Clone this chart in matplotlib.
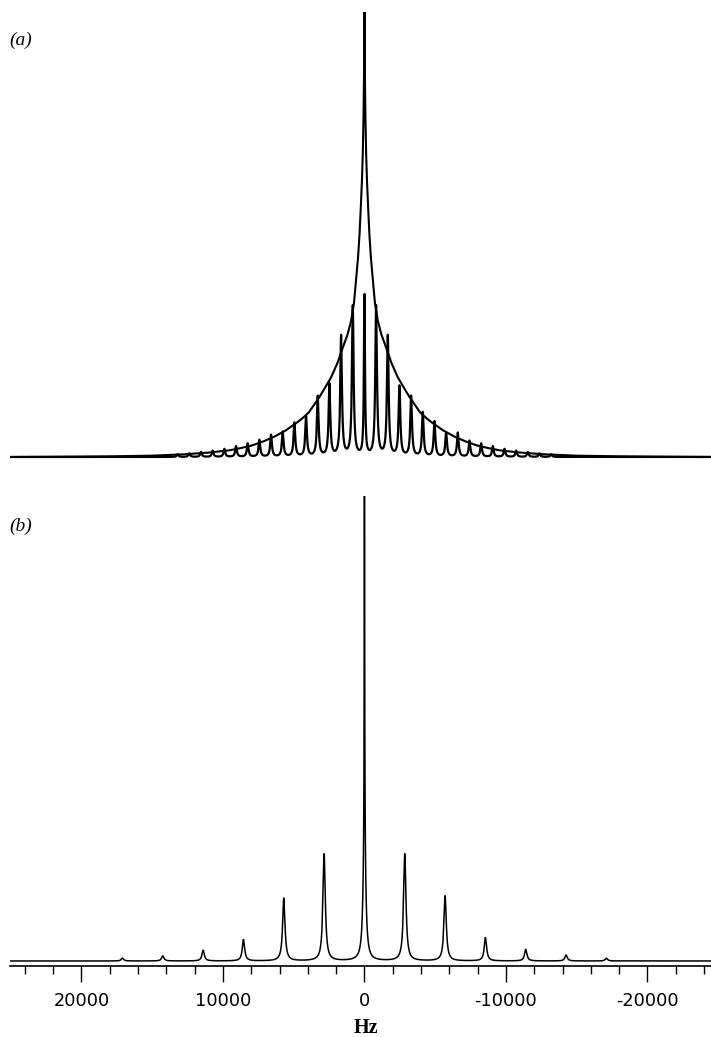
import numpy as np
import matplotlib
matplotlib.use('Agg')
import matplotlib.pyplot as plt
from matplotlib.ticker import FixedLocator, MultipleLocator

# ---- data ----
# (a) slow spinning: spinning rate (Hz), sideband heights (relative to top of panel)
spin_a = 825
side_a_pos = [0.337, 0.27, 0.162, 0.135, 0.090, 0.076, 0.056, 0.049,
              0.038, 0.030, 0.024, 0.018, 0.014, 0.011, 0.008, 0.006]
side_a_neg = [0.337, 0.27, 0.157, 0.135, 0.099, 0.079, 0.054, 0.054,
              0.036, 0.030, 0.024, 0.018, 0.014, 0.011, 0.008, 0.006]
centre_a = 0.36

# static line shape in (a): offset from centre (Hz) and height
env_hz = [0, 30, 70, 120, 180, 260, 350, 450, 560, 740, 950, 1200, 1540,
          1900, 2340, 2800, 3140, 3500, 3940, 4350, 4740, 5150, 5550, 6350,
          7150, 7950, 8750, 9550, 11000, 12750, 15000, 18000, 21000, 25100]
env_h = [1.0, 0.86, 0.76, 0.68, 0.62, 0.56, 0.50, 0.45, 0.41, 0.346, 0.305,
         0.275, 0.245, 0.212, 0.180, 0.155, 0.137, 0.120, 0.100, 0.088, 0.078,
         0.069, 0.060, 0.046, 0.035, 0.026, 0.020, 0.015, 0.010, 0.006, 0.003,
         0.0015, 0.0008, 0.0]

# (b) fast spinning
spin_b = 2850
side_b_pos = [0.23, 0.135, 0.046, 0.023, 0.011, 0.006]
side_b_neg = [0.23, 0.14, 0.05, 0.025, 0.013, 0.006]
centre_b = [0.75, 0.25]
centre_b_fwhm = [40, 220]

tick_hz = [20000, 10000, 0, -10000, -20000]
tick_labels = ['20000', '10000', '0', '-10000', '-20000']

XLIM = (25050, -24490)


def lorentz(x, x0, h, fwhm):
    return h / (1.0 + ((x - x0) / (fwhm / 2.0)) ** 2)


x = np.arange(-24500, 25060, 2.5)

# spectrum (a)
spec_a = lorentz(x, 0, centre_a, 90)
for n, (hp, hn) in enumerate(zip(side_a_pos, side_a_neg), start=1):
    spec_a += lorentz(x, n * spin_a, hp, 140)
    spec_a += lorentz(x, -n * spin_a, hn, 140)

env_x = [-v for v in env_hz[::-1]] + env_hz[1:]
env_y = env_h[::-1] + env_h[1:]

# spectrum (b)
spec_b = np.zeros_like(x)
for h, w in zip(centre_b, centre_b_fwhm):
    spec_b += lorentz(x, 0, h, w)
for n, (hp, hn) in enumerate(zip(side_b_pos, side_b_neg), start=1):
    spec_b += lorentz(x, n * spin_b, hp, 200)
    spec_b += lorentz(x, -n * spin_b, hn, 200)

W, H = 711, 1037
fig = plt.figure(figsize=(W / 100, H / 100), dpi=100)

# panel (a): top at y=12 px, baseline at y=457 px
ax_a = fig.add_axes([10 / W, 1 - 465 / H, 701 / W, 453 / H])
ax_a.plot(x, spec_a, color='black', lw=1.6, solid_joinstyle='round')
ax_a.plot(env_x, env_y, color='black', lw=1.5, solid_joinstyle='round')
ax_a.set_xlim(*XLIM)
ax_a.set_ylim(-8 / 445, 1.0)
ax_a.axis('off')

# panel (b): top at y=496 px, baseline at 961 px, axis line at 966 px
ax_b = fig.add_axes([10 / W, 1 - 966 / H, 701 / W, 470 / H])
ax_b.plot(x, spec_b, color='black', lw=1.1)
ax_b.set_xlim(*XLIM)
ax_b.set_ylim(-5 / 465, 1.0)
for s in ['top', 'left', 'right']:
    ax_b.spines[s].set_visible(False)
ax_b.spines['bottom'].set_linewidth(1.2)
ax_b.set_yticks([])
ax_b.xaxis.set_major_locator(FixedLocator(tick_hz))
ax_b.xaxis.set_minor_locator(MultipleLocator(2000))
ax_b.set_xticklabels(tick_labels, fontfamily='DejaVu Sans', fontsize=12.8)
ax_b.tick_params(axis='x', which='major', direction='out', length=11.5, width=1.0, pad=7)
ax_b.tick_params(axis='x', which='minor', direction='out', length=5.8, width=1.0)

fig.text(366 / W, 1 - 1028 / H, 'Hz', family='Liberation Serif', fontsize=14.5,
         weight='bold', ha='center', va='center')
fig.text(9 / W, 1 - 40 / H, '(a)', family='Liberation Serif', style='italic',
         fontsize=14, ha='left', va='center')
fig.text(9 / W, 1 - 526 / H, '(b)', family='Liberation Serif', style='italic',
         fontsize=14, ha='left', va='center')

fig.savefig('out.png', dpi=100)
